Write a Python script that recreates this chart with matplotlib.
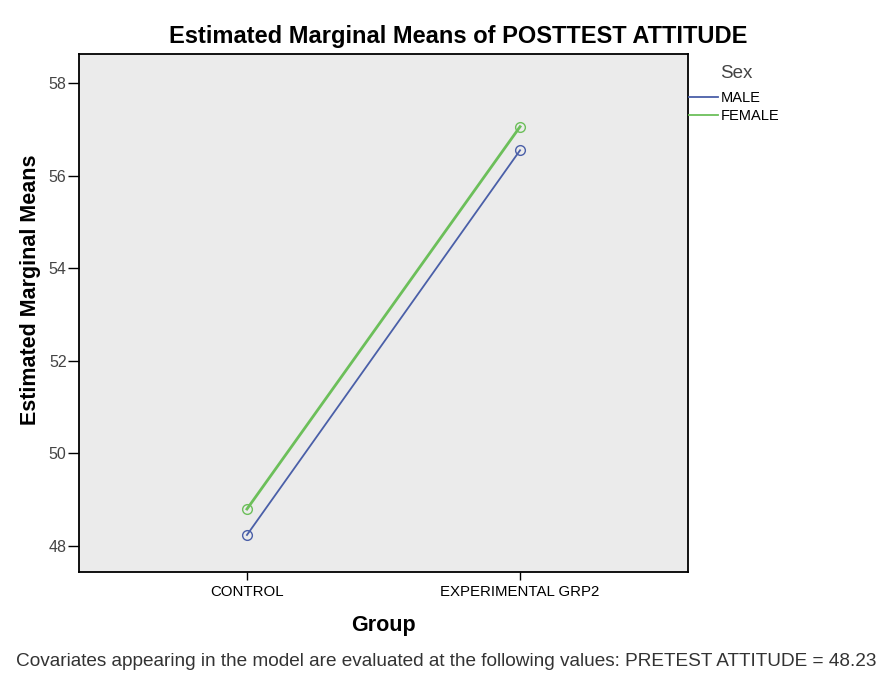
import matplotlib
matplotlib.use("Agg")
import matplotlib.pyplot as plt
from matplotlib.lines import Line2D

groups = ["CONTROL", "EXPERIMENTAL GRP2"]
male = [48.24, 56.55]
female = [48.80, 57.06]
yticks = [48, 50, 52, 54, 56, 58]

plt.rcParams["font.family"] = ["Liberation Sans", "DejaVu Sans"]

W, H = 893, 688
fig = plt.figure(figsize=(W / 100, H / 100), dpi=100)
ax = fig.add_axes([79 / W, 1 - 572 / H, (688 - 79) / W, (572 - 54) / H])
ax.set_facecolor("#ebebeb")

x = range(len(groups))
blue, green = "#4a5fa8", "#6cbf5a"
ax.plot(x, male, color=blue, lw=1.3, marker="o", ms=7, mfc="none", mec=blue)
ax.plot(x, female, color=green, lw=2.0, marker="o", ms=7, mfc="none", mec=green)

ax.set_xlim(-0.615, 1.615)
ax.set_ylim(47.44, 58.63)
ax.set_xticks(list(x))
ax.set_xticklabels(groups, fontsize=10.8)
ax.set_yticks(yticks)
ax.set_yticklabels([str(v) for v in yticks], fontsize=11.5, color="#444444")
ax.tick_params(direction="out", length=8, width=1, pad=1)
ax.tick_params(axis="x", length=6, pad=3)
for s in ax.spines.values():
    s.set_linewidth(1.3)

fig.text(383 / W, 1 - 625 / H, "Group", fontsize=15.5, fontweight="bold",
         ha="center", va="center")
fig.text(31 / W, 1 - 290 / H, "Estimated Marginal Means", fontsize=15.5,
         fontweight="bold", rotation=90, ha="center", va="center")
fig.text(458 / W, 1 - 36 / H, "Estimated Marginal Means of POSTTEST ATTITUDE",
         fontsize=17, fontweight="bold", ha="center", va="center")

# legend: title as plain text, entries through fig.legend
fig.text(720 / W, 1 - 73 / H, "Sex", fontsize=13.5, color="#444444", va="center")
handles = [Line2D([], [], color=blue, lw=1.3), Line2D([], [], color=green, lw=1.3)]
fig.legend(handles, ["MALE", "FEMALE"], loc="upper left",
           bbox_to_anchor=(689 / W, 1 - 91 / H), frameon=False,
           fontsize=10.5, handlelength=2.0, handletextpad=0.2,
           labelspacing=0.3, borderaxespad=0, borderpad=0)

fig.text(16 / W, 1 - 662 / H,
         "Covariates appearing in the model are evaluated at the following values: "
         "PRETEST ATTITUDE = 48.23", fontsize=13.7, color="#333333", va="center")

fig.savefig("out.png", dpi=100)
